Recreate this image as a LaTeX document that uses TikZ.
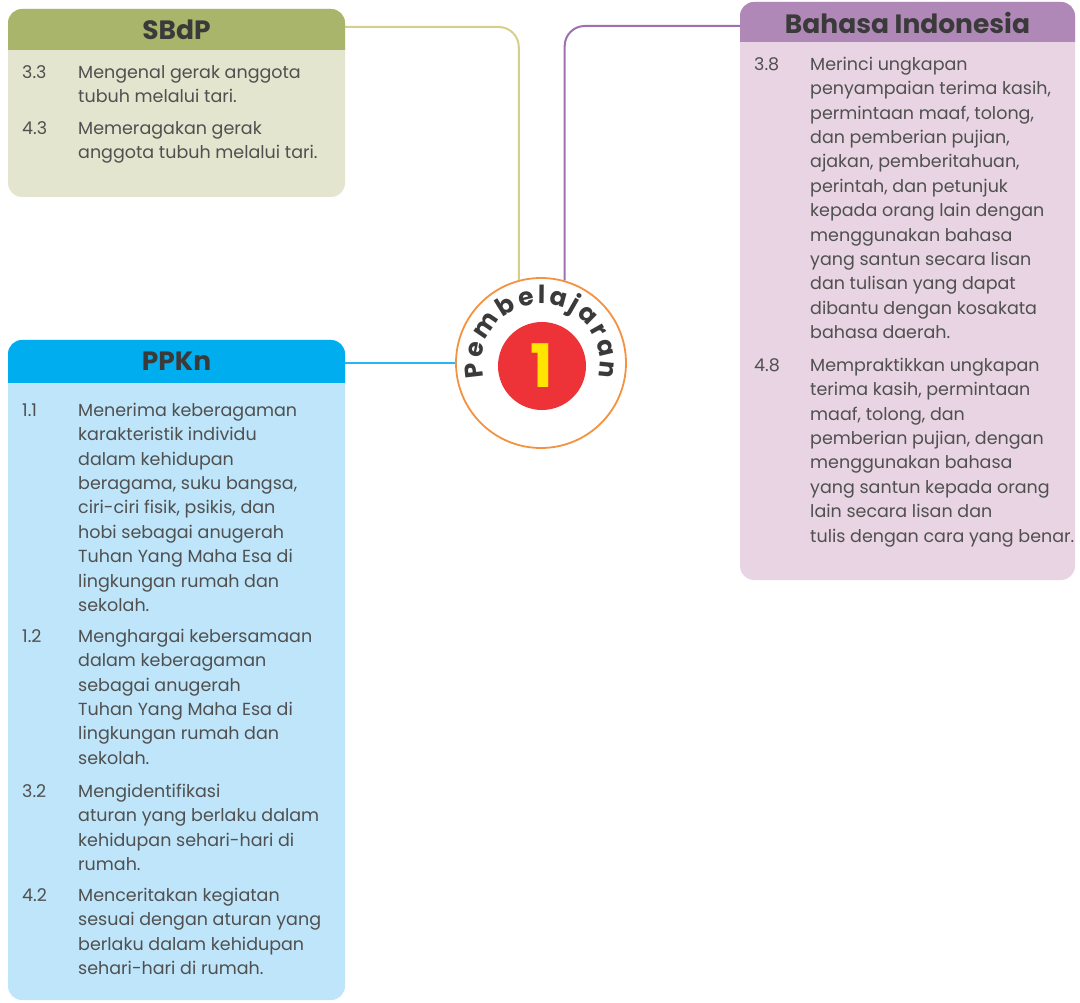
\documentclass[tikz,border=0pt]{standalone}
\usepackage{fontspec}
\setmainfont{Poppins}
\usetikzlibrary{decorations.text}
\definecolor{sbHead}{HTML}{A8B56B}
\definecolor{sbBody}{HTML}{E3E5CE}
\definecolor{sbLine}{HTML}{D6CF8C}
\definecolor{biHead}{HTML}{B088B8}
\definecolor{biBody}{HTML}{E8D4E3}
\definecolor{biLine}{HTML}{9E70B0}
\definecolor{ppHead}{HTML}{00AEEF}
\definecolor{ppBody}{HTML}{BEE5F9}
\definecolor{ppLine}{HTML}{29B6EF}
\definecolor{tgray}{HTML}{505050}
\definecolor{hgray}{HTML}{3A3A3A}
\definecolor{ringOrange}{HTML}{F4923F}
\definecolor{dotRed}{HTML}{EE3338}
\definecolor{numYellow}{HTML}{FFE500}
\tikzset{
  headtext/.style={inner sep=0, text=hgray, font=\bfseries\fontsize{26.5}{30}\selectfont},
  txt/.style={anchor=north west, inner sep=0, align=left, text=tgray, font=\fontsize{17.5}{24.4}\selectfont},
  conn/.style={line width=2pt, rounded corners=20pt},
}
\begin{document}
\begin{tikzpicture}[x=1pt,y=1pt]
\useasboundingbox (0,0) rectangle (1080,-1003);
% ---- SBdP box
\fill[sbBody, rounded corners=14pt] (8,-9) rectangle (345,-197);
\begin{scope}
  \clip (8,-9) rectangle (345,-50);
  \fill[sbHead, rounded corners=14pt] (8,-9) rectangle (345,-197);
\end{scope}
\node[headtext] (sbdp) at (176.5,-30) {SBdP};
\coordinate (sbdpR) at (345,-27);
\node[txt] (sb33n) at (22,-61) {\strut 3.3};
\node[txt] (sb33) at (78,-61) {\strut Mengenal gerak anggota\\tubuh melalui tari.};
\node[txt] (sb43n) at (22,-117) {\strut 4.3};
\node[txt] (sb43) at (78,-117) {\strut Memeragakan gerak\\anggota tubuh melalui tari.};
% ---- Bahasa Indonesia box
\fill[biBody, rounded corners=14pt] (740,-2) rectangle (1075,-580);
\begin{scope}
  \clip (740,-2) rectangle (1075,-42);
  \fill[biHead, rounded corners=14pt] (740,-2) rectangle (1075,-580);
\end{scope}
\node[headtext] (bi) at (907.5,-22.5) {Bahasa Indonesia};
\coordinate (biL) at (740,-26);
\node[txt] (bi38n) at (754,-53) {\strut 3.8};
\node[txt] (bi38) at (810,-53) {\strut Merinci ungkapan\\penyampaian terima kasih,\\permintaan maaf, tolong,\\dan pemberian pujian,\\ajakan, pemberitahuan,\\perintah, dan petunjuk\\kepada orang lain dengan\\menggunakan bahasa\\yang santun secara lisan\\dan tulisan yang dapat\\dibantu dengan kosakata\\bahasa daerah.};
\node[txt] (bi48n) at (754,-354) {\strut 4.8};
\node[txt] (bi48) at (810,-354) {\strut Mempraktikkan ungkapan\\terima kasih, permintaan\\maaf, tolong, dan\\pemberian pujian, dengan\\menggunakan bahasa\\yang santun kepada orang\\lain secara lisan dan\\tulis dengan cara yang benar.};
% ---- PPKn box
\fill[ppBody, rounded corners=14pt] (8,-340) rectangle (345,-1000);
\begin{scope}
  \clip (8,-340) rectangle (345,-382);
  \fill[ppHead, rounded corners=14pt] (8,-340) rectangle (345,-1000);
\end{scope}
\node[headtext] (ppkn) at (176.5,-361.5) {PPKn};
\coordinate (ppknR) at (345,-363);
\node[txt] (pp11n) at (22,-399) {\strut 1.1};
\node[txt] (pp11) at (78,-399) {\strut Menerima keberagaman\\karakteristik individu\\dalam kehidupan\\beragama, suku bangsa,\\ciri-ciri fisik, psikis, dan\\hobi sebagai anugerah\\Tuhan Yang Maha Esa di\\lingkungan rumah dan\\sekolah.};
\node[txt] (pp12n) at (22,-625) {\strut 1.2};
\node[txt] (pp12) at (78,-625) {\strut Menghargai kebersamaan\\dalam keberagaman\\sebagai anugerah\\Tuhan Yang Maha Esa di\\lingkungan rumah dan\\sekolah.};
\node[txt] (pp32n) at (22,-780) {\strut 3.2};
\node[txt] (pp32) at (78,-780) {\strut Mengidentifikasi\\aturan yang berlaku dalam\\kehidupan sehari-hari di\\rumah.};
\node[txt] (pp42n) at (22,-884) {\strut 4.2};
\node[txt] (pp42) at (78,-884) {\strut Menceritakan kegiatan\\sesuai dengan aturan yang\\berlaku dalam kehidupan\\sehari-hari di rumah.};
% ---- centre
\node[circle, draw=ringOrange, line width=1.8pt, fill=white, minimum size=170pt, inner sep=0] (circ) at (541,-363) {};
\node[circle, fill=dotRed, minimum size=88pt, inner sep=0] (dot) at (542,-366) {};
\node[text=numYellow, font=\bfseries\fontsize{60}{60}\selectfont, inner sep=0] (one) at (542,-366) {1};
\path[decorate, decoration={text along path, text={|\bfseries\fontsize{25}{28}\selectfont\color{hgray}|Pembelajaran}, text align=fit to path}]
  (circ.center) ++(194:59) arc[start angle=194, end angle=-14, radius=59];
% ---- connectors
\draw[conn, sbLine] (sbdpR) -| (circ.105);
\draw[conn, biLine] (biL) -| (circ.74);
\draw[line width=2pt, ppLine] (ppknR) -- (circ.west);
\end{tikzpicture}
\end{document}
